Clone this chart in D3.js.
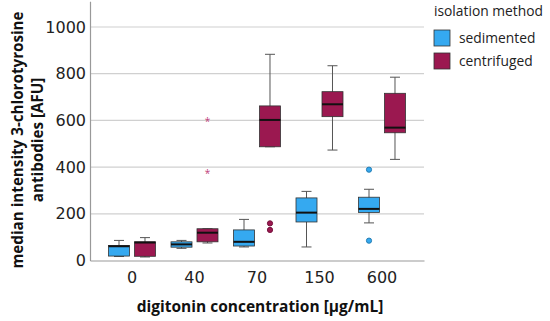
<!DOCTYPE html>
<html>
<head>
<meta charset="utf-8">
<script src="https://cdn.jsdelivr.net/npm/d3@7"></script>
<style>
  body { margin: 0; background: #fff; }
  svg { display: block; font-family: "Open Sans", sans-serif; }
</style>
</head>
<body>
<div id="chart"></div>
<script>
// categories
const concentrations = ['0', '40', '70', '150', '600'];
const methods = ['sedimented', 'centrifuged'];
const yTicks = [0, 200, 400, 600, 800, 1000];

// box stats per concentration: [whiskerLow, q1, median, q3, whiskerHigh]
const sedimentedStats = [
  [17, 19, 61, 64, 86],
  [52, 57, 69, 80, 86],
  [58, 62, 80, 131, 176],
  [58, 165, 205, 268, 296],
  [161, 206, 221, 271, 305]
];
const centrifugedStats = [
  [15, 18, 77, 80, 98],
  [75, 80, 119, 136, 136],
  [487, 487, 602, 662, 883],
  [473, 616, 669, 723, 834],
  [433, 547, 569, 716, 785]
];

// outliers: [concentration, value]
const sedimentedOutliers = [['600', 389], ['600', 85]];
const centrifugedOutliers = [['70', 159], ['70', 131]];
const centrifugedExtremes = [['40', 599], ['40', 376]];

const colors = { sedimented: '#35a9f0', centrifuged: '#9b1850' };
const tickFont = '"DejaVu Sans", sans-serif';

const width = 550, height = 321;
const svg = d3.select('#chart').append('svg')
  .attr('width', width).attr('height', height);

const x = d3.scaleBand()
  .domain(concentrations)
  .range([90, 424])
  .paddingInner(0)
  .paddingOuter(0.172);

const x1 = d3.scaleBand()
  .domain(methods)
  .range([-23.5, 23.5])
  .paddingInner(0.192);

const y = d3.scaleLinear()
  .domain([0, 1110])
  .range([260.5, 1.3]);

// gridlines
svg.append('g')
  .selectAll('line')
  .data(yTicks.filter(d => d > 0))
  .enter().append('line')
    .attr('x1', 90).attr('x2', 424)
    .attr('y1', d => y(d)).attr('y2', d => y(d))
    .attr('stroke', '#d0d0d0').attr('stroke-width', 1.2);

// y axis
const yAxis = svg.append('g')
  .attr('transform', 'translate(90,0)')
  .call(d3.axisLeft(y).tickValues(yTicks).tickFormat(d3.format('d')).tickSize(0).tickPadding(4));
yAxis.select('.domain').attr('stroke', '#999').attr('stroke-width', 1.2);
yAxis.selectAll('text').attr('font-size', 16).attr('fill', '#222')
  .attr('font-family', tickFont);

// x axis
const xAxis = svg.append('g')
  .attr('transform', `translate(0,${y(0)})`)
  .call(d3.axisBottom(x).tickSize(0).tickPadding(11));
xAxis.select('.domain').attr('stroke', '#999').attr('stroke-width', 1.2);
xAxis.selectAll('text').attr('font-size', 16).attr('fill', '#222')
  .attr('font-family', tickFont);

// boxes
const boxes = [];
concentrations.forEach((c, i) => {
  boxes.push({ c, m: 'sedimented', s: sedimentedStats[i] });
  boxes.push({ c, m: 'centrifuged', s: centrifugedStats[i] });
});

const bw = x1.bandwidth();
const g = svg.append('g').selectAll('g')
  .data(boxes)
  .enter().append('g')
    .attr('transform', d => `translate(${x(d.c) + x.bandwidth() / 2 + x1(d.m)},0)`);

// whiskers
g.append('line')
  .attr('x1', bw / 2).attr('x2', bw / 2)
  .attr('y1', d => y(d.s[4])).attr('y2', d => y(d.s[0]))
  .attr('stroke', '#555').attr('stroke-width', 1);
g.append('line')
  .attr('x1', bw / 2 - 5).attr('x2', bw / 2 + 5)
  .attr('y1', d => y(d.s[4])).attr('y2', d => y(d.s[4]))
  .attr('stroke', '#555').attr('stroke-width', 1);
g.append('line')
  .attr('x1', bw / 2 - 5).attr('x2', bw / 2 + 5)
  .attr('y1', d => y(d.s[0])).attr('y2', d => y(d.s[0]))
  .attr('stroke', '#555').attr('stroke-width', 1);

g.append('rect')
  .attr('x', 0).attr('width', bw)
  .attr('y', d => y(d.s[3]))
  .attr('height', d => y(d.s[1]) - y(d.s[3]))
  .attr('fill', d => colors[d.m])
  .attr('stroke', '#333').attr('stroke-width', 0.8);

g.append('line')
  .attr('x1', 0).attr('x2', bw)
  .attr('y1', d => y(d.s[2])).attr('y2', d => y(d.s[2]))
  .attr('stroke', '#111').attr('stroke-width', 2);

// outliers
const outliers = sedimentedOutliers.map(d => ({ c: d[0], v: d[1], m: 'sedimented' }))
  .concat(centrifugedOutliers.map(d => ({ c: d[0], v: d[1], m: 'centrifuged' })));
svg.append('g').selectAll('circle')
  .data(outliers)
  .enter().append('circle')
    .attr('cx', d => x(d.c) + x.bandwidth() / 2 + x1(d.m) + bw / 2)
    .attr('cy', d => y(d.v))
    .attr('r', 2.6)
    .attr('fill', d => colors[d.m])
    .attr('stroke', d => d3.color(colors[d.m]).darker(0.8))
    .attr('stroke-width', 1);

// extremes (asterisks)
svg.append('g').selectAll('text')
  .data(centrifugedExtremes)
  .enter().append('text')
    .attr('x', d => x(d[0]) + x.bandwidth() / 2 + x1('centrifuged') + bw / 2)
    .attr('y', d => y(d[1]) + 4)
    .attr('text-anchor', 'middle')
    .attr('font-size', 10)
    .attr('fill', '#c0407a')
    .text('*');

// axis titles
svg.append('text')
  .attr('transform', 'translate(23,140) rotate(-90)')
  .attr('text-anchor', 'middle')
  .attr('font-size', 15.2).attr('font-weight', 'bold').attr('fill', '#111')
  .text('median intensity 3-chlorotyrosine');
svg.append('text')
  .attr('transform', 'translate(43,140) rotate(-90)')
  .attr('text-anchor', 'middle')
  .attr('font-size', 15.2).attr('font-weight', 'bold').attr('fill', '#111')
  .text('antibodies [AFU]');
svg.append('text')
  .attr('x', 260).attr('y', 312)
  .attr('text-anchor', 'middle')
  .attr('font-size', 15.5).attr('font-weight', 'bold').attr('fill', '#111')
  .text('digitonin concentration [µg/mL]');

// legend
const legend = svg.append('g');
legend.append('text')
  .attr('x', 434).attr('y', 16)
  .attr('font-size', 13.8).attr('fill', '#222')
  .text('isolation method');
const li = legend.selectAll('g.item')
  .data(methods)
  .enter().append('g')
    .attr('class', 'item')
    .attr('transform', (d, i) => `translate(434,${30 + i * 23})`);
li.append('rect')
  .attr('width', 16).attr('height', 16)
  .attr('fill', d => colors[d])
  .attr('stroke', '#333').attr('stroke-width', 0.8);
li.append('text')
  .attr('x', 25).attr('y', 13)
  .attr('font-size', 13.8).attr('fill', '#222')
  .text(d => d);
</script>
</body>
</html>
